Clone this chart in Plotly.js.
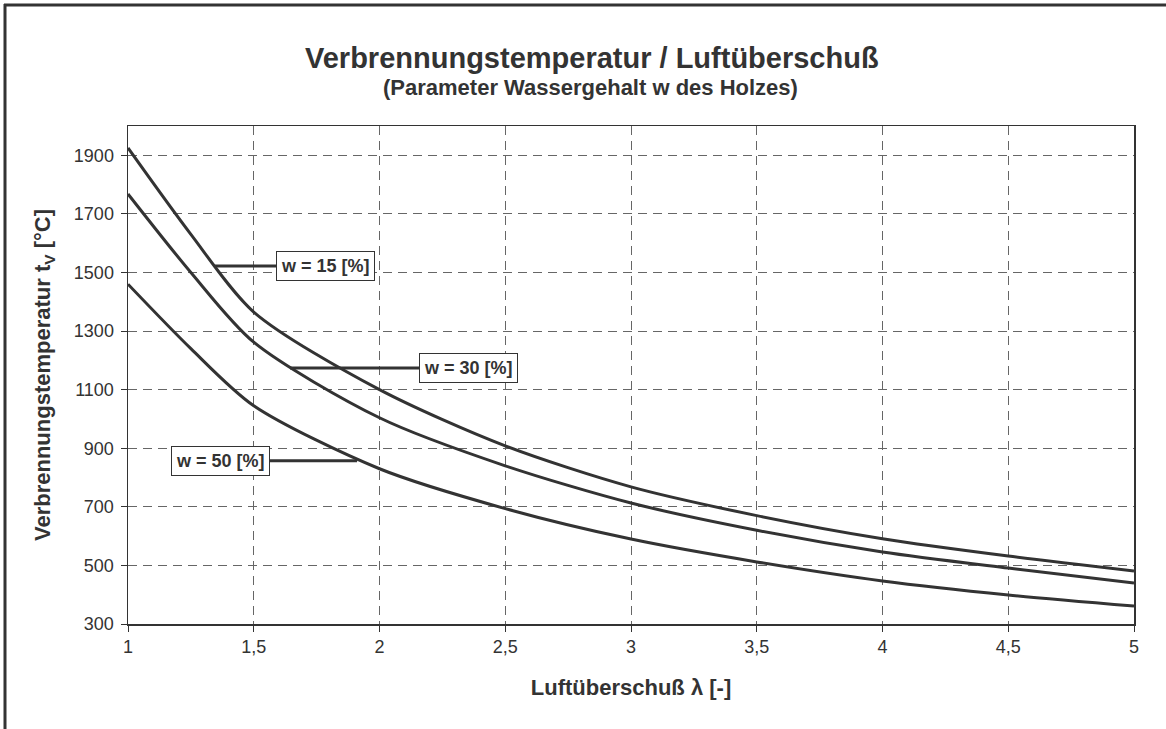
<!DOCTYPE html>
<html>
<head>
<meta charset="utf-8">
<script src="https://cdn.plot.ly/plotly-3.0.1.min.js"></script>
<style>html,body{margin:0;padding:0;background:#fff;}#chart{width:1166px;height:729px;}</style>
</head>
<body>
<div id="chart"></div>
<script>
// Luftüberschuß λ
const lambda = [1, 1.25, 1.5, 2, 2.5, 3, 3.5, 4, 4.5, 5];
// Verbrennungstemperatur tV [°C]
const w15 = [1925, 1630, 1365, 1100, 908, 768, 670, 591, 532, 481];
const w30 = [1768, 1500, 1262, 1004, 840, 713, 620, 546, 491, 440];
const w50 = [1460, 1240, 1045, 830, 694, 590, 512, 447, 399, 361];
const seriesNames = ["w = 15 [%]", "w = 30 [%]", "w = 50 [%]"];
// label anchors: point on curve (x,y) and label box centre x
const labelPoint = [[1.346, 1522], [1.644, 1174], [1.911, 857]];
const labelBoxX = [1.787, 2.352, 1.368];

const ink = "#333333";
const font = "Liberation Sans, Arial, sans-serif";

const W = 1166, H = 729;
const M = {l: 128, r: 32, t: 126, b: 105};
const pw = W - M.l - M.r, ph = H - M.t - M.b;
const px = v => (v - M.l) / pw;
const py = v => (H - M.b - v) / ph;

const traces = [w15, w30, w50].map((ys, i) => ({
  x: lambda, y: ys, type: "scatter", mode: "lines", name: seriesNames[i],
  line: {color: ink, width: 3, shape: "spline", smoothing: 0.8},
  hoverinfo: "x+y"
}));

const annotations = [
  {text: "Verbrennungstemperatur / Luftüberschuß", xref: "paper", yref: "paper",
   x: px(592), y: py(58), showarrow: false, xanchor: "center", yanchor: "middle",
   font: {family: font, size: 29, color: ink, weight: "bold"}},
  {text: "(Parameter Wassergehalt w des Holzes)", xref: "paper", yref: "paper",
   x: px(590), y: py(88), showarrow: false, xanchor: "center", yanchor: "middle",
   font: {family: font, size: 22, color: ink, weight: "bold"}}
];
seriesNames.forEach((n, i) => {
  annotations.push({
    text: "<b>" + n + "</b>", x: labelPoint[i][0], y: labelPoint[i][1],
    xref: "x", yref: "y", axref: "x", ayref: "y",
    ax: labelBoxX[i], ay: labelPoint[i][1],
    showarrow: true, arrowhead: 0, arrowwidth: 3, arrowcolor: ink,
    bgcolor: "#ffffff", bordercolor: ink, borderwidth: 1, borderpad: 4,
    font: {family: font, size: 18, color: ink}
  });
});

const shapes = [
  {type: "line", xref: "paper", yref: "paper", x0: px(5), x1: px(5), y0: py(4), y1: py(H + 5),
   line: {color: ink, width: 3}},
  {type: "line", xref: "paper", yref: "paper", x0: px(4), x1: px(W + 5), y0: py(5), y1: py(5),
   line: {color: ink, width: 3}}
];

const layout = {
  width: W, height: H, margin: M, showlegend: false,
  paper_bgcolor: "#ffffff", plot_bgcolor: "#ffffff",
  separators: ",.",
  font: {family: font, size: 18, color: ink},
  xaxis: {
    range: [1, 5], tick0: 1, dtick: 0.5, tickmode: "linear",
    showgrid: true, gridcolor: "#666666", gridwidth: 1, griddash: "9px,6px",
    showline: true, linecolor: ink, linewidth: 1.5, mirror: true,
    ticks: "outside", ticklen: 6, tickcolor: ink, zeroline: false,
    tickfont: {family: font, size: 18, color: ink},
    title: {text: "Luftüberschuß λ [-]", standoff: 23,
            font: {family: font, size: 22, color: ink, weight: "bold"}}
  },
  yaxis: {
    range: [300, 2000], tick0: 300, dtick: 200, tickmode: "linear",
    showgrid: true, gridcolor: "#666666", gridwidth: 1, griddash: "9px,6px",
    showline: true, linecolor: ink, linewidth: 1.5, mirror: true,
    ticks: "outside", ticklen: 6, tickcolor: ink, zeroline: false,
    ticklabelstandoff: 3,
    tickfont: {family: font, size: 18, color: ink},
    title: {text: "Verbrennungstemperatur t<sub>V</sub> [°C]", standoff: 17,
            font: {family: font, size: 22, color: ink, weight: "bold"}}
  },
  annotations: annotations,
  shapes: shapes
};

Plotly.newPlot("chart", traces, layout, {displayModeBar: false, staticPlot: true});
</script>
</body>
</html>
